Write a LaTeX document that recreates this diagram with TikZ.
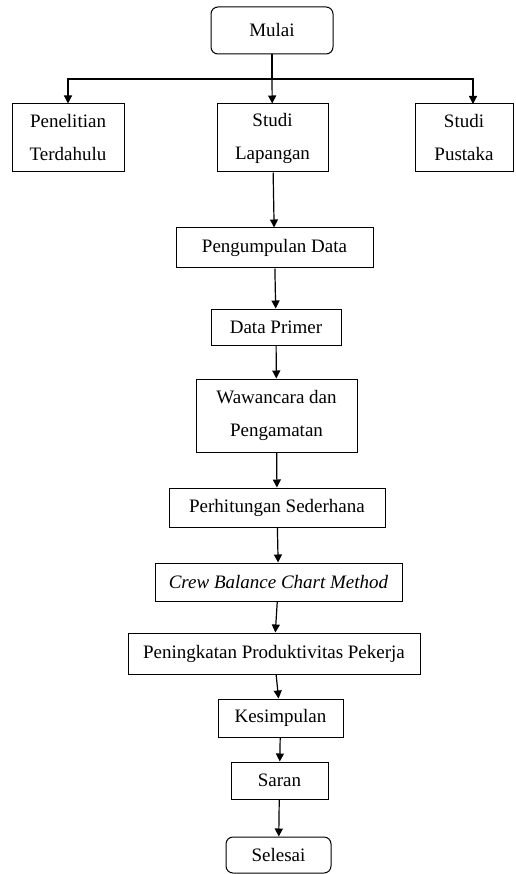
\documentclass[tikz,border=0pt]{standalone}
\usepackage{fontspec}
\setmainfont{Liberation Serif}
\usetikzlibrary{arrows.meta}

\begin{document}
\begin{tikzpicture}[x=1pt, y=-1pt, >={Triangle[length=8pt,width=8pt]},
    box/.style={draw, line width=1pt, inner sep=0pt, align=center,
      font=\fontsize{19}{33}\selectfont},
    endbox/.style={box, rounded corners=7pt},
    flow/.style={->, line width=1.2pt}]
    \useasboundingbox (0,0) rectangle (515,874);
    % start and branches
    \node[endbox, minimum width=122pt, minimum height=47pt] (mulai) at (272,30.5) {Mulai};
    \node[box, minimum width=112pt, minimum height=68pt] (pen) at (68,138) {Penelitian\\Terdahulu};
    \node[box, minimum width=111pt, minimum height=68pt] (lap) at (272.5,138) {Studi\\Lapangan};
    \node[box, minimum width=98pt, minimum height=68pt] (pus) at (464,138) {Studi\\Pustaka};
    \coordinate (jn) at (272,79);
    \coordinate (pusin) at (473,104);
    \draw[line width=1.2pt] (mulai) -- (jn);
    \draw[flow] (jn) -| (pen);
    \draw[flow] (jn) -- (lap);
    \draw[flow] (jn) -| (pusin);
    % main chain
    \node[box, minimum width=197pt, minimum height=40pt] (peng) at (274.5,248) {Pengumpulan Data};
    \node[box, minimum width=130pt, minimum height=36pt] (prim) at (276,327) {Data Primer};
    \node[box, minimum width=161pt, minimum height=73pt] (waw) at (276.5,415.5) {Wawancara dan\\Pengamatan};
    \node[box, minimum width=216pt, minimum height=39pt] (perh) at (277,507.5) {Perhitungan Sederhana};
    \node[box, minimum width=247pt, minimum height=38pt] (crew) at (278.5,582) {\textit{Crew Balance Chart Method}};
    \node[box, minimum width=292pt, minimum height=41pt] (penin) at (274,653.5) {Peningkatan Produktivitas Pekerja};
    \node[box, minimum width=125pt, minimum height=38pt] (kes) at (280.5,718) {Kesimpulan};
    \node[box, minimum width=97pt, minimum height=37pt] (saran) at (279.5,780.5) {Saran};
    \node[endbox, minimum width=105pt, minimum height=36pt] (selesai) at (278.5,855) {Selesai};
    \foreach \a/\b in {lap/peng, peng/prim, prim/waw, waw/perh, perh/crew,
      crew/penin, penin/kes, kes/saran, saran/selesai}
      \draw[flow] (\a) -- (\b);
\end{tikzpicture}
\end{document}
